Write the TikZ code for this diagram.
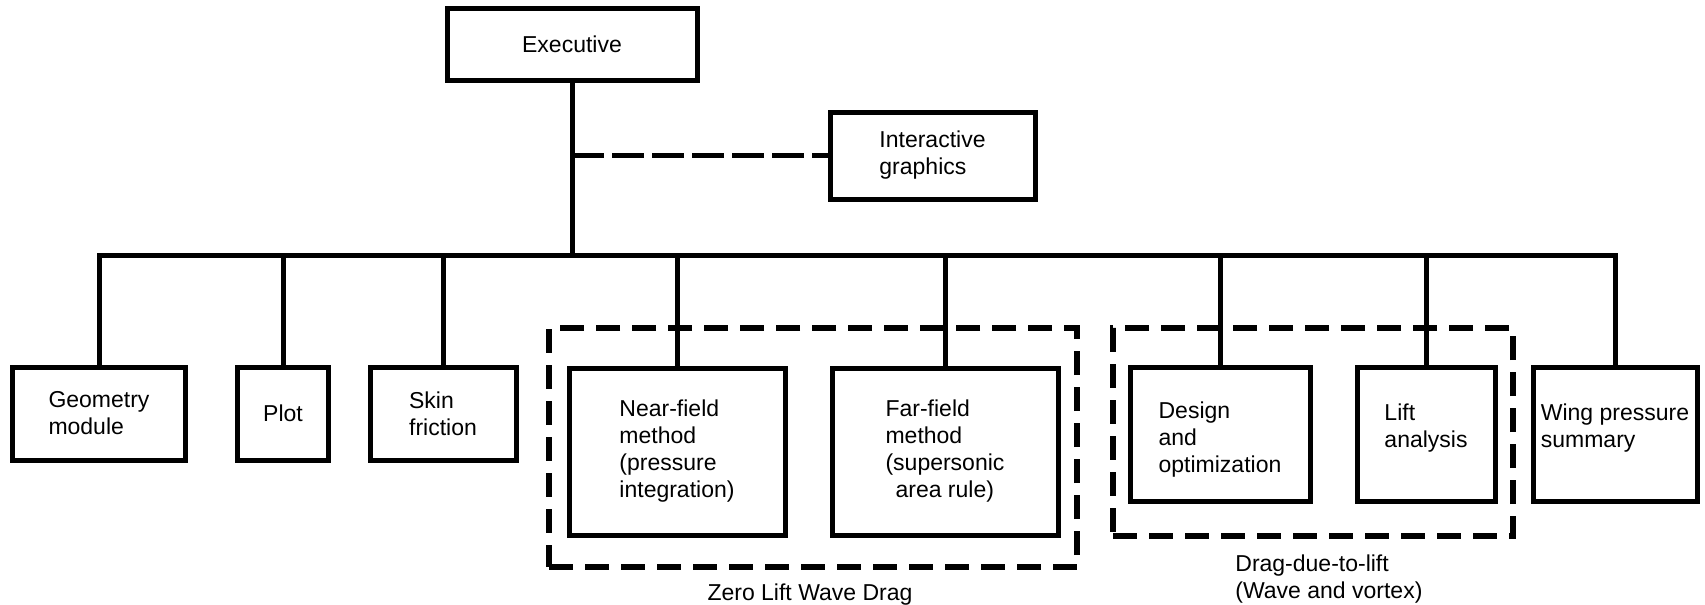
\documentclass[tikz,border=0pt]{standalone}
\usepackage{fontspec}
\setmainfont{Liberation Sans}
\newcommand\diagfont{\fontsize{11.5pt}{13.5pt}\selectfont}
\newcommand\lowerstrut{\rule{0pt}{13.4pt}}
\begin{document}
\begin{tikzpicture}[x=0.5pt,y=-0.5pt,
  box/.style={draw, line width=2.5pt, align=left, inner sep=0pt, font=\diagfont},
  link/.style={line width=2.5pt},
  zone/.style={draw, line width=2.7pt, dash pattern=on 12pt off 6pt, inner sep=0pt},
  dlink/.style={line width=2.8pt, dash pattern=on 16pt off 4pt},
  lab/.style={inner sep=0pt, align=left, font=\diagfont}]
\fill[white] (0,0) rectangle (1705,605);
\useasboundingbox (0,0) rectangle (1705,605);

\node[box, minimum width=125pt, minimum height=36pt] (exec) at (572,44) {Executive};
\node[box, minimum width=102.5pt, minimum height=43.5pt] (inter) at (932.5,155.5) {Interactive\\graphics};

\node[box, minimum width=86.5pt, minimum height=46.5pt] (geom) at (99,413.5) {Geometry\\module};
\node[box, minimum width=45.5pt, minimum height=46.5pt] (plot) at (283,413.5) {Plot};
\node[box, minimum width=73pt, minimum height=46.5pt] (skin) at (443,413.5) {Skin\\friction};
\node[box, minimum width=108pt, minimum height=83.5pt] (near) at (677,451.5) {Near-field\\method\\(pressure\\integration)};
\node[box, minimum width=113pt, minimum height=83.5pt] (far) at (945,451.5) {Far-field\\method\\(supersonic\\\hspace*{5pt}area rule)};
\node[box, minimum width=90pt, minimum height=67pt] (design) at (1220,434) {\lowerstrut Design\\and\\optimization};
\node[box, minimum width=69pt, minimum height=67pt] (lift) at (1426,434) {\lowerstrut Lift\\analysis\\~};
\node[box, minimum width=82pt, minimum height=67pt] (wing) at (1615,434) {\lowerstrut Wing pressure\\summary\\~};

\node[zone, minimum width=264pt, minimum height=119.5pt] (zld) at (813,447.5) {};
\node[zone, minimum width=200pt, minimum height=104pt] (dtl) at (1313,432) {};
\node[lab, anchor=north] (zldlab) at (810,583) {Zero Lift Wave Drag};
\node[lab, anchor=north west] (dtllab) at (1235,554) {Drag-due-to-lift\\(Wave and vortex)};

\coordinate (busy) at (0,255);
\draw[link] (exec.south) -- (exec.south |- busy);
\draw[link] (geom.north) -- (geom.north |- busy) -- (wing.north |- busy) -- (wing.north);
\foreach \n in {plot,skin,near,far,design,lift}
  \draw[link] (\n.north) -- (\n.north |- busy);
\draw[dlink] (exec.south |- inter.west) -- (inter.west);
\end{tikzpicture}
\end{document}
